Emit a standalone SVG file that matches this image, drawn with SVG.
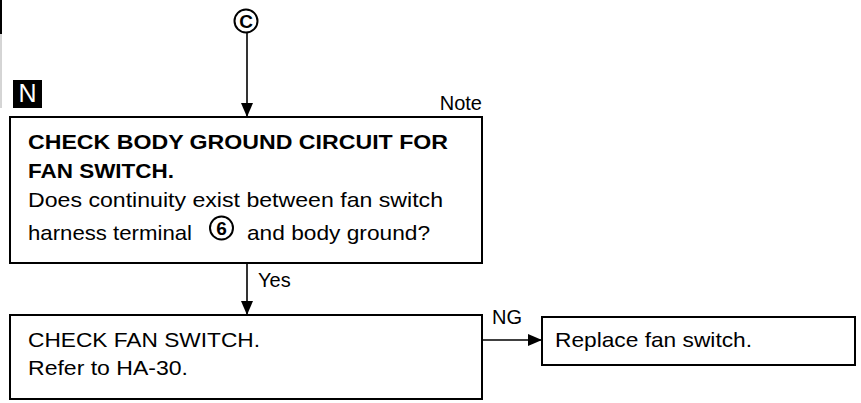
<svg xmlns="http://www.w3.org/2000/svg" width="861" height="403" viewBox="0 0 861 403">
<style>
.box{fill:#fff;stroke:#000;stroke-width:2}
.t{font-family:"Liberation Sans",Arial,sans-serif;font-size:20px;fill:#000}
.m{font-size:21px}
.b{font-weight:bold}
.ln{stroke:#000;stroke-width:1.6;fill:none}
</style>
<defs>
<marker id="ah" viewBox="0 0 15 14" refX="14" refY="7" markerWidth="15" markerHeight="14" markerUnits="userSpaceOnUse" orient="auto">
<path d="M0,1 L14,7 L0,13 Z" fill="#000"/>
</marker>
</defs>
<rect width="861" height="403" fill="#fff"/>
<line x1="1" y1="0" x2="1" y2="34" stroke="#000" stroke-width="2"/>
<line x1="1" y1="34" x2="1" y2="108" stroke="#aaa" stroke-width="1"/>

<g id="connector-c">
<circle cx="246" cy="21" r="11.5" fill="#fff" stroke="#000" stroke-width="2"/>
<text x="246" y="28" text-anchor="middle" class="t b" style="font-size:19px">C</text>
</g>

<g id="n-badge">
<rect x="13" y="80" width="29" height="28" fill="#000"/>
<text x="27.5" y="102" text-anchor="middle" style="font-family:'Liberation Sans',Arial,sans-serif;font-size:25px;fill:#fff">N</text>
</g>

<g id="note-label">
<text x="482" y="110" text-anchor="end" class="t">Note</text>
</g>

<g id="connectors">
<line class="ln" x1="247" y1="33" x2="247" y2="117" marker-end="url(#ah)"/>
<line class="ln" x1="247" y1="263" x2="247" y2="315" marker-end="url(#ah)"/>
<text x="258" y="287" class="t">Yes</text>
<line class="ln" x1="482" y1="340" x2="542" y2="340" marker-end="url(#ah)"/>
<text x="492" y="324" class="t">NG</text>
</g>

<g id="node-check-body-ground">
<rect class="box" x="10" y="117" width="472" height="146"/>
<text x="28" y="149" class="t m b" textLength="420" lengthAdjust="spacingAndGlyphs">CHECK BODY GROUND CIRCUIT FOR</text>
<text x="28" y="178" class="t m b" textLength="146" lengthAdjust="spacingAndGlyphs">FAN SWITCH.</text>
<text x="28" y="207" class="t m" textLength="415" lengthAdjust="spacingAndGlyphs">Does continuity exist between fan switch</text>
<text x="28" y="240" class="t m" textLength="164" lengthAdjust="spacingAndGlyphs">harness terminal</text>
<circle cx="221.5" cy="228" r="11.5" fill="none" stroke="#000" stroke-width="2"/>
<text x="221.5" y="235" text-anchor="middle" class="t b" style="font-size:19px">6</text>
<text x="247" y="240" class="t m" textLength="183" lengthAdjust="spacingAndGlyphs">and body ground?</text>
</g>

<g id="node-check-fan-switch">
<rect class="box" x="10" y="315" width="472" height="84"/>
<text x="28" y="347" class="t m" textLength="232" lengthAdjust="spacingAndGlyphs">CHECK FAN SWITCH.</text>
<text x="28" y="375" class="t m" textLength="160" lengthAdjust="spacingAndGlyphs">Refer to HA-30.</text>
</g>

<g id="node-replace-fan-switch">
<rect class="box" x="542" y="317" width="313" height="48"/>
<text x="555" y="347" class="t m" textLength="197" lengthAdjust="spacingAndGlyphs">Replace fan switch.</text>
</g>
</svg>
